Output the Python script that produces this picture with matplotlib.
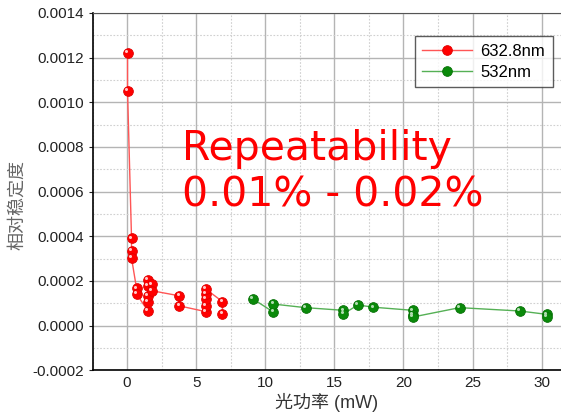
import numpy as np
import matplotlib
matplotlib.use("Agg")
import matplotlib.pyplot as plt
from matplotlib.ticker import MultipleLocator, FormatStrFormatter
from matplotlib.transforms import offset_copy

plt.rcParams['font.family'] = ['Liberation Sans', 'Noto Sans CJK SC', 'DejaVu Sans']

# red series: 632.8nm (repeated measurements at each power)
red_x = [0.03, 0.03,
         0.32, 0.32, 0.32,
         0.68, 0.68,
         1.48, 1.48, 1.48, 1.48, 1.48,
         1.77, 1.77,
         3.78, 3.78,
         5.70, 5.70, 5.70, 5.70, 5.70,
         6.90, 6.90]
red_y = [0.00122, 0.00105,
         0.00039, 0.000335, 0.000302,
         0.000167, 0.000142,
         0.000067, 0.000107, 0.000133, 0.000178, 0.000204,
         0.000185, 0.000156,
         0.000133, 0.000088,
         0.000062, 0.000088, 0.000118, 0.000142, 0.000163,
         0.000107, 0.000052]

# green series: 532nm
green_x = [9.08, 10.59, 10.59, 12.91, 15.65, 15.65, 16.70, 17.82,
           20.67, 20.67, 20.67, 24.06, 28.42, 30.36, 30.36]
green_y = [0.00012, 0.00006, 0.000096, 0.00008, 0.000068, 0.000052, 0.000092, 0.000082,
           0.000068, 0.000048, 0.000038, 0.00008, 0.000065, 0.00005, 0.00004]

fig = plt.figure(figsize=(5.61, 4.15), dpi=100)
ax = fig.add_axes([0.165, 0.108, 0.835, 0.861])

ax.plot(red_x, red_y, color='#ff5555', lw=1.0, marker='o', ms=7,
        mfc='#ff0000', mec='#e00000', mew=0.6, label='632.8nm', zorder=3)
ax.plot(green_x, green_y, color='#55b055', lw=1.0, marker='o', ms=7,
        mfc='#0a8a0a', mec='#067006', mew=0.6, label='532nm', zorder=3)
# small glossy highlight on each marker, nudged up-left
hl = offset_copy(ax.transData, fig=fig, x=-1.2, y=1.2, units='points')
ax.plot(red_x, red_y, ls='none', marker='o', ms=2.2, mfc='#ffc8c8', mec='none',
        zorder=4, transform=hl)
ax.plot(green_x, green_y, ls='none', marker='o', ms=2.2, mfc='#b0dcb0', mec='none',
        zorder=4, transform=hl)

ax.set_xlim(-2.5, 31.4)
ax.set_ylim(-0.0002, 0.0014)
ax.xaxis.set_major_locator(MultipleLocator(5))
ax.xaxis.set_minor_locator(MultipleLocator(2.5))
ax.yaxis.set_major_locator(MultipleLocator(0.0002))
ax.yaxis.set_minor_locator(MultipleLocator(0.0001))
ax.yaxis.set_major_formatter(FormatStrFormatter('%.4f'))

ax.grid(which='major', color='#b4b4b4', lw=1.0, ls='-')
ax.grid(which='minor', color='#d0d0d0', lw=0.8, ls=(0, (1.5, 1.5)))
ax.set_axisbelow(True)

ax.tick_params(axis='x', which='both', length=0, labelsize=11, colors='#222222', pad=4)
ax.tick_params(axis='y', which='major', length=3, direction='out', labelsize=11,
               colors='#222222')
ax.tick_params(axis='y', which='minor', length=0)
for s in ['left', 'bottom']:
    ax.spines[s].set_color('black')
    ax.spines[s].set_linewidth(1.2)
ax.spines['top'].set_color('#555555')
ax.spines['right'].set_visible(False)

ax.set_xlabel('光功率 (mW)', fontsize=13, color='#333333', labelpad=2)
ax.set_ylabel('相对稳定度', fontsize=13, color='#666666')
ax.yaxis.set_label_coords(-0.1425, 0.462)

ax.text(4.0, 0.000533, 'Repeatability\n0.01% - 0.02%', fontsize=29.5,
        color='#ff0000', family='DejaVu Sans', va='baseline', linespacing=1.2)

leg = ax.legend(loc='upper right', bbox_to_anchor=(1.0, 0.958), fontsize=12,
                frameon=True, fancybox=False, edgecolor='#333333',
                handlelength=3.0, handletextpad=0.5, borderpad=0.45, labelspacing=0.35)
leg.get_frame().set_linewidth(1.0)

fig.savefig('out.png', dpi=100)
